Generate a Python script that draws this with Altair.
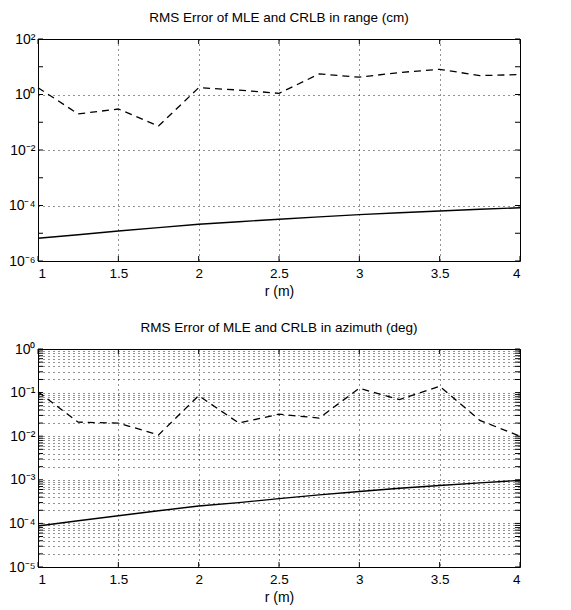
import altair as alt
import pandas as pd

# ---- data ----
r = [1.0, 1.25, 1.5, 1.75, 2.0, 2.25, 2.5, 2.75, 3.0, 3.25, 3.5, 3.75, 4.0]

range_mle = [1.76, 0.20, 0.30, 0.073, 1.76, 1.45, 1.1, 5.5, 4.2, 6.2, 8.1, 4.8, 5.2]
range_crlb = [6.6e-6, 8.8e-6, 1.2e-5, 1.6e-5, 2.1e-5, 2.6e-5, 3.2e-5, 3.9e-5,
              4.7e-5, 5.5e-5, 6.3e-5, 7.3e-5, 8.3e-5]

az_mle = [0.105, 0.021, 0.020, 0.0107, 0.085, 0.020, 0.032, 0.026, 0.126,
          0.069, 0.14, 0.023, 0.010]
az_crlb = [8.7e-5, 1.15e-4, 1.5e-4, 1.95e-4, 2.5e-4, 3.0e-4, 3.7e-4, 4.5e-4,
           5.4e-4, 6.4e-4, 7.4e-4, 8.5e-4, 9.7e-4]

x_ticks = [1, 1.5, 2, 2.5, 3, 3.5, 4]
range_exps = [-6, -4, -2, 0, 2]
range_minor_exps = [-6, -5, -4, -3, -2, -1, 0, 1, 2]
az_exps = [-5, -4, -3, -2, -1, 0]

titles = ["RMS Error of MLE and CRLB in range (cm)",
          "RMS Error of MLE and CRLB in azimuth (deg)"]
x_title = "r (m)"

FONT = "Liberation Sans, Arial"
SUP = str.maketrans("-0123456789", "⁻⁰¹²³⁴⁵⁶⁷⁸⁹")


def label_expr(exps):
    parts = [f"abs(log(datum.value)/LN10 - ({e})) < 0.001 ? '10{str(e).translate(SUP)}'"
             for e in exps]
    return " : ".join(parts) + " : ''"


def panel(mle, crlb, exps, grid_values, tick_values, title, height):
    df = pd.DataFrame({"r": r, "mle": mle, "crlb": crlb})
    xaxis = alt.Axis(values=x_ticks, format="~g", grid=True,
                     gridDash=[1, 4], gridColor="#000", gridOpacity=0.85,
                     ticks=False, domain=False, labelFontSize=13.5,
                     titleFontSize=14, labelFont=FONT, titleFont=FONT,
                     labelColor="#000", titleColor="#000",
                     titleFontWeight="normal", labelPadding=5,
                     titlePadding=5)
    xscale = alt.Scale(domain=[1, 4], nice=False, zero=False)
    lo, hi = 10.0 ** exps[0], 10.0 ** exps[-1]
    yscale = alt.Scale(type="log", domain=[lo, hi], nice=False)
    yaxis = alt.Axis(values=grid_values, labelExpr=label_expr(exps), grid=True,
                     gridDash=[1, 4], gridColor="#000", gridOpacity=0.85,
                     ticks=False, domain=False, labelFontSize=14,
                     labelFont=FONT, labelColor="#000", labelPadding=3,
                     minExtent=30, maxExtent=30, title=None)
    x = alt.X("r:Q", title=x_title, scale=xscale, axis=xaxis)

    base = alt.Chart(df)
    dashed = base.mark_line(color="#000", strokeWidth=1.3,
                            strokeDash=[7, 5]).encode(
        x=x, y=alt.Y("mle:Q", scale=yscale, axis=yaxis))
    solid = base.mark_line(color="#000", strokeWidth=1.4).encode(
        x=x, y=alt.Y("crlb:Q", scale=yscale, axis=yaxis))

    # inward tick marks on all four sides (MATLAB box style)
    xt = pd.DataFrame({"r": x_ticks})
    yt = pd.DataFrame({"v": tick_values})
    xt_enc = alt.X("r:Q", title=x_title, scale=xscale, axis=xaxis)
    ticks_bottom = alt.Chart(xt).mark_rule(color="#000").encode(
        x=xt_enc, y=alt.value(height), y2=alt.value(height - 5))
    ticks_top = alt.Chart(xt).mark_rule(color="#000").encode(
        x=xt_enc, y=alt.value(0), y2=alt.value(5))
    yt_enc = alt.Y("v:Q", scale=yscale, axis=yaxis)
    ticks_left = alt.Chart(yt).mark_rule(color="#000").encode(
        y=yt_enc, x=alt.value(0), x2=alt.value(5))
    ticks_right = alt.Chart(yt).mark_rule(color="#000").encode(
        y=yt_enc, x=alt.value(482), x2=alt.value(477))

    return alt.layer(ticks_bottom, ticks_top, ticks_left, ticks_right,
                     dashed, solid).properties(
        width=482, height=height,
        title=alt.TitleParams(title, font=FONT, fontSize=13.5,
                              fontWeight="normal", color="#000", offset=8))


range_grid = [10.0 ** e for e in range_exps]
range_tickv = [10.0 ** e for e in range_minor_exps]
az_grid = [m * 10.0 ** e for e in az_exps[:-1] for m in range(1, 10)] + [1.0]

top = panel(range_mle, range_crlb, range_exps, range_grid, range_tickv,
            titles[0], 222)
bottom = panel(az_mle, az_crlb, az_exps, az_grid, az_grid, titles[1], 218)

chart = alt.vconcat(top, bottom, spacing=21).properties(
    padding={"left": 7, "top": 10, "right": 10, "bottom": 5},
    background="white",
).configure_view(stroke="#000", strokeWidth=1)

chart.save("out.html", embed_options={"renderer": "svg", "actions": False})
